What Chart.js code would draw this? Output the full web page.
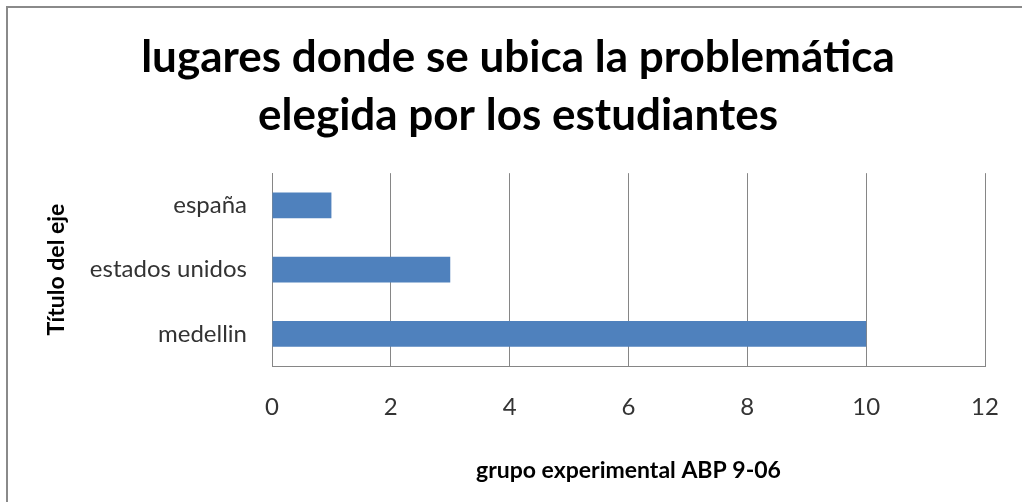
<!DOCTYPE html>
<html>
<head>
<meta charset="utf-8">
<script src="https://cdn.jsdelivr.net/npm/chart.js@4/dist/chart.umd.min.js"></script>
<style>
  body { margin: 0; background: #fff; }
  #wrap { position: relative; width: 1022px; height: 502px; }
  #marco { position: absolute; left: 6px; top: 6px; right: -10px; bottom: -10px;
           border-left: 2px solid #8a8a8a; border-top: 2px solid #8a8a8a; pointer-events: none; }
</style>
</head>
<body>
<div id="wrap">
  <canvas id="grafico" width="1022" height="502"></canvas>
  <div id="marco"></div>
</div>
<script>
  var lugares = ['españa', 'estados unidos', 'medellin']
  var cantidad = [1, 3, 10]
  var ticksX = [0, 2, 4, 6, 8, 10, 12]

  var titulo = ['lugares donde se ubica la problemática', 'elegida por los estudiantes']
  var tituloX = 'grupo experimental ABP 9-06'
  var tituloY = 'Título del eje'

  const data = {
    labels: lugares,
    datasets: [{
      label: 'Serie 1',
      data: cantidad,
      backgroundColor: '#4F81BD',
      borderWidth: 0,
      categoryPercentage: 1,
      barPercentage: 0.4
    }]
  };

  const config = {
    type: 'bar',
    data,
    options: {
      indexAxis: 'y',
      responsive: false,
      animation: false,
      layout: { padding: { left: 51, right: 37, top: 0, bottom: 0 } },
      plugins: {
        legend: { display: false },
        tooltip: { enabled: false },
        title: {
          display: true,
          text: titulo,
          color: '#000',
          font: { family: 'Lato', size: 44, weight: 'bold', lineHeight: 1.32 },
          padding: { top: 29, bottom: 28 }
        }
      },
      scales: {
        x: {
          min: 0,
          max: 12,
          afterBuildTicks: function (s) { s.ticks = ticksX.map(v => ({ value: v })) },
          afterFit: function (s) { s.height = 136 },
          // espacio bajo el eje con marcas invisibles
          grid: { color: '#868686', lineWidth: 1, drawTicks: true, tickLength: 27, tickColor: 'rgba(0,0,0,0)' },
          border: { color: '#868686', width: 1 },
          ticks: { color: '#333', padding: 0, font: { family: 'Lato', size: 24 } },
          title: {
            display: true,
            text: tituloX,
            color: '#000',
            font: { family: 'Lato', size: 23, weight: 'bold' },
            padding: { top: 0, bottom: 18 }
          }
        },
        y: {
          afterFit: function (s) { s.width = 221 },
          grid: { display: false, drawTicks: false },
          border: { color: '#868686', width: 1 },
          ticks: { color: '#333', padding: 25, font: { family: 'Lato', size: 24 } },
          title: {
            display: true,
            text: tituloY,
            color: '#000',
            font: { family: 'Lato', size: 23, weight: 'bold' },
            padding: { top: -8, bottom: 0 }
          }
        }
      }
    }
  };

  const miGrafico = new Chart(document.getElementById('grafico'), config);
</script>
</body>
</html>
